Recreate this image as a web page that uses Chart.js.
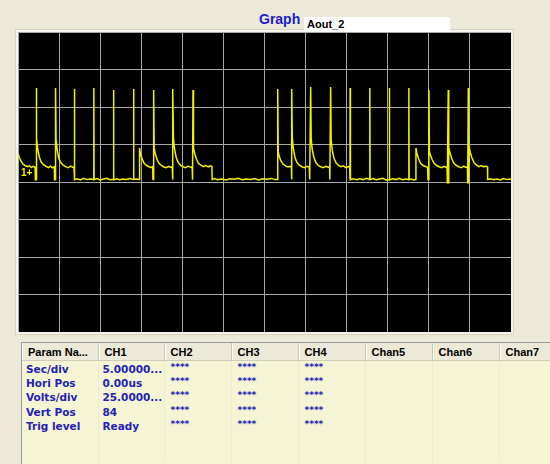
<!DOCTYPE html>
<html>
<head>
<meta charset="utf-8">
<script src="https://cdn.jsdelivr.net/npm/chart.js@4"></script>
<style>
  html, body { margin: 0; padding: 0; width: 550px; height: 464px; overflow: hidden; background: #ECE9D8; font-family: "Liberation Sans", Arial, sans-serif; }
  #title { position: absolute; left: 259px; top: 11px; color: #1c1ccc; font-weight: bold; font-size: 14px; }
  #nameBox { position: absolute; z-index: 2; left: 304px; top: 17px; width: 146px; height: 15px; background: #fff; font-weight: bold; font-size: 11px; line-height: 14px; padding-left: 3px; box-sizing: border-box; }
  #frame { position: absolute; left: 15px; top: 29px; width: 499px; height: 306px; border: 1px solid #d6d3c4; box-sizing: border-box; background: #f4f3ee; }
  #plot { position: absolute; left: 18px; top: 32px; width: 493px; height: 300px; background: #000; }
  #params { position: absolute; left: 21px; top: 342px; width: 540px; height: 130px; overflow: hidden; background: #F5F4D4; border-left: 1px solid #9a9a9a; border-top: 1px solid #9a9a9a; }
  table { border-collapse: collapse; table-layout: fixed; font-weight: bold; }
  th { height: 17px; padding: 0 0 0 6px; text-align: left; font-size: 11px; background: #ECE9D8; color: #000; border-right: 1px solid #c9c6b4; border-bottom: 1px solid #d0cdb8; box-shadow: inset 1px 0 0 #fff; white-space: nowrap; overflow: hidden; }
  td { height: 14.2px; padding: 0 0 0 4px; font-family: "DejaVu Sans", sans-serif; font-size: 10.5px; color: #2323b4; border-right: 1px solid #ebeacb; white-space: nowrap; overflow: hidden; line-height: 14px; }
  tr.first td { padding-top: 1px; }
  td.star { font-size: 9px; vertical-align: top; line-height: 10px; padding-left: 6px; }
</style>
</head>
<body>
<div id="title">Graph</div>
<div id="nameBox">Aout_2</div>
<div id="frame"></div>
<div id="plot"><canvas id="scope" width="493" height="300"></canvas></div>
<div id="params"><table id="tbl"></table></div>
<script>
// time in microseconds (5 us/div, 12 div), volts (25 V/div, 8 div)
const timeUs = [
  0.00,0.15,0.35,0.60,0.85,1.15,1.40,1.60,1.85,2.08,2.12,2.20,
  2.22,2.28,2.40,2.60,2.85,3.10,3.40,3.70,3.95,4.20,4.42,4.45,4.55,
  4.57,4.63,4.75,4.95,5.20,5.50,5.80,6.10,6.40,6.70,6.82,
  6.86,6.90,7.20,7.60,8.00,8.40,8.80,9.20,
  9.23,9.26,9.60,10.00,10.40,10.80,11.20,11.60,
  11.63,11.66,12.00,12.40,12.80,13.20,13.60,14.04,
  14.07,14.10,14.40,14.78,
  14.80,14.90,15.10,15.35,15.65,15.95,16.20,16.40,16.42,16.48,
  16.51,16.57,16.70,16.90,17.15,17.45,17.75,18.05,18.35,18.60,18.77,18.80,
  18.86,18.92,19.05,19.25,19.50,19.80,20.10,20.40,20.70,21.00,21.20,21.24,
  21.30,21.36,21.50,21.70,21.95,22.25,22.55,22.85,23.15,23.40,23.60,23.63,
  23.90,24.30,24.80,25.30,25.80,26.30,26.80,27.30,27.80,28.30,28.80,29.30,29.80,30.30,30.80,31.30,31.58,
  31.61,31.67,31.80,32.00,32.25,32.55,32.85,33.10,33.28,33.30,
  33.32,33.38,33.50,33.70,33.95,34.25,34.55,34.85,35.15,35.45,35.50,
  35.62,35.68,35.80,36.00,36.25,36.55,36.85,37.15,37.45,37.75,37.92,37.95,
  38.05,38.11,38.25,38.45,38.70,39.00,39.30,39.60,39.90,40.20,40.37,40.40,
  40.42,40.46,40.80,41.20,41.60,42.00,42.40,42.80,
  42.82,42.85,43.20,43.60,44.00,44.40,44.80,45.18,
  45.20,45.23,45.60,46.00,46.40,46.80,47.20,47.55,
  47.57,47.60,47.90,48.20,48.41,
  48.43,48.55,48.75,49.00,49.30,49.60,49.85,49.90,
  50.01,50.07,50.20,50.40,50.65,50.95,51.25,51.55,51.85,52.10,52.22,52.25,
  52.36,52.40,52.45,52.60,52.80,53.05,53.35,53.65,53.95,54.25,54.50,54.70,54.73,
  54.80,54.84,54.90,55.05,55.25,55.50,55.80,56.10,56.40,56.70,56.95,57.14,57.16,
  57.50,57.90,58.30,58.70,59.10,59.50,59.90,60.00
];
const volts = [
  19.0,16.5,14.0,12.0,11.0,10.2,10.8,9.6,10.4,9.8,1.5,1.7,
  62.7,29.3,22.0,16.5,13.0,11.5,10.5,9.6,10.6,9.5,10.2,1.5,1.7,
  62.7,29.0,22.0,16.0,13.0,11.2,10.3,9.5,10.6,9.7,10.0,
  62.0,1.5,2.2,1.4,2.4,1.6,2.0,1.7,
  62.7,1.6,2.3,1.4,2.0,2.5,1.5,1.8,
  61.3,1.6,2.2,1.5,2.0,1.7,2.3,1.6,
  62.0,1.7,2.0,1.7,
  22.7,19.0,15.5,12.5,11.0,10.2,9.6,10.4,1.8,1.7,
  61.3,22.7,19.0,15.5,12.5,11.0,10.0,9.6,10.5,9.7,10.2,1.6,
  62.0,29.3,22.0,16.5,13.0,11.0,10.2,9.5,10.6,9.8,10.2,1.5,
  61.3,22.7,19.0,15.5,12.5,11.2,10.3,11.0,10.0,10.8,10.4,1.7,
  2.3,1.5,2.0,1.4,2.2,1.8,2.5,1.5,2.0,1.6,2.3,1.4,2.1,1.8,2.4,1.6,1.7,
  62.0,20.2,17.0,14.0,12.0,10.8,10.0,10.5,9.8,1.6,
  62.0,30.2,22.5,16.5,13.0,11.2,10.2,9.6,10.5,10.0,1.6,
  63.3,29.0,22.0,16.5,13.0,11.0,10.2,9.6,10.5,9.8,10.2,1.6,
  63.3,28.0,21.0,16.0,12.8,11.0,10.2,10.8,9.6,10.3,10.0,1.7,
  62.7,1.5,2.2,1.5,2.1,1.6,2.4,1.7,
  62.7,1.6,2.3,1.5,2.0,2.4,1.4,1.7,
  62.7,1.5,2.1,1.6,2.4,1.5,2.0,1.7,
  62.7,1.5,2.0,1.4,1.7,
  22.7,19.0,15.5,12.5,11.0,10.3,9.8,1.7,
  61.3,20.2,18.0,15.0,12.5,11.0,10.2,9.6,10.5,9.8,10.1,-1.0,
  61.3,-1.0,22.7,19.0,15.5,12.5,11.0,10.2,9.5,10.6,9.8,10.2,-1.0,
  62.7,-1.0,23.5,19.5,16.0,13.0,11.2,10.3,11.0,10.0,10.6,10.0,1.7,
  2.2,1.5,2.0,1.4,2.3,1.6,2.0,1.8
];

// parameter table
const columns = ['Param Na...', 'CH1', 'CH2', 'CH3', 'CH4', 'Chan5', 'Chan6', 'Chan7'];
const colWidths = [76, 66, 67, 67, 67, 67, 67, 60];
const paramNames = ['Sec/div', 'Hori Pos', 'Volts/div', 'Vert Pos', 'Trig level'];
const ch1Values = ['5.00000...', '0.00us', '25.0000...', '84', 'Ready'];
const otherValues = ['****', '****', '****'];

// build table
const tbl = document.getElementById('tbl');
let html = '<colgroup>' + colWidths.map(w => '<col style="width:' + w + 'px">').join('') + '</colgroup>';
html += '<tr>' + columns.map(c => '<th>' + c + '</th>').join('') + '</tr>';
paramNames.forEach((p, i) => {
  html += '<tr' + (i === 0 ? ' class="first"' : '') + '><td>' + p + '</td><td>' + ch1Values[i] + '</td>' +
    otherValues.map(v => '<td class="star">' + v + '</td>').join('') +
    '<td></td><td></td><td></td></tr>';
});
html += '<tr><td style="height:30px"></td><td></td><td></td><td></td><td></td><td></td><td></td><td></td></tr>';
tbl.innerHTML = html;

// black screen + channel marker
const scopePlugin = {
  id: 'scope',
  beforeDraw(chart) {
    chart.ctx.save();
    chart.ctx.fillStyle = '#000';
    chart.ctx.fillRect(0, 0, chart.width, chart.height);
    chart.ctx.restore();
  },
  afterDatasetsDraw(chart) {
    const ctx = chart.ctx;
    ctx.save();
    ctx.fillStyle = '#f2f200';
    ctx.font = 'bold 10px "Liberation Sans", Arial';
    ctx.textBaseline = 'middle';
    ctx.fillText('1+', chart.chartArea.left + 3, chart.scales.y.getPixelForValue(6));
    ctx.restore();
  }
};

const ctxScope = document.getElementById('scope').getContext('2d');
const scopeChart = new Chart(ctxScope, {
  type: 'line',
  data: {
    datasets: [{
      data: timeUs.map((t, i) => ({ x: t, y: volts[i] })),
      borderColor: '#f0f000',
      borderWidth: 1.5,
      pointRadius: 0,
      tension: 0,
      fill: false
    }]
  },
  options: {
    responsive: false,
    animation: false,
    layout: { padding: 0 },
    plugins: { legend: { display: false }, tooltip: { enabled: false } },
    scales: {
      x: {
        type: 'linear', min: 0, max: 60,
        ticks: { display: false, stepSize: 5 },
        grid: { color: '#a8a8a8', lineWidth: 1, drawTicks: false },
        border: { display: false }
      },
      y: {
        min: -100, max: 100,
        ticks: { display: false, stepSize: 25 },
        grid: { color: '#a8a8a8', lineWidth: 1, drawTicks: false },
        border: { display: false }
      }
    }
  },
  plugins: [scopePlugin]
});
</script>
</body>
</html>
